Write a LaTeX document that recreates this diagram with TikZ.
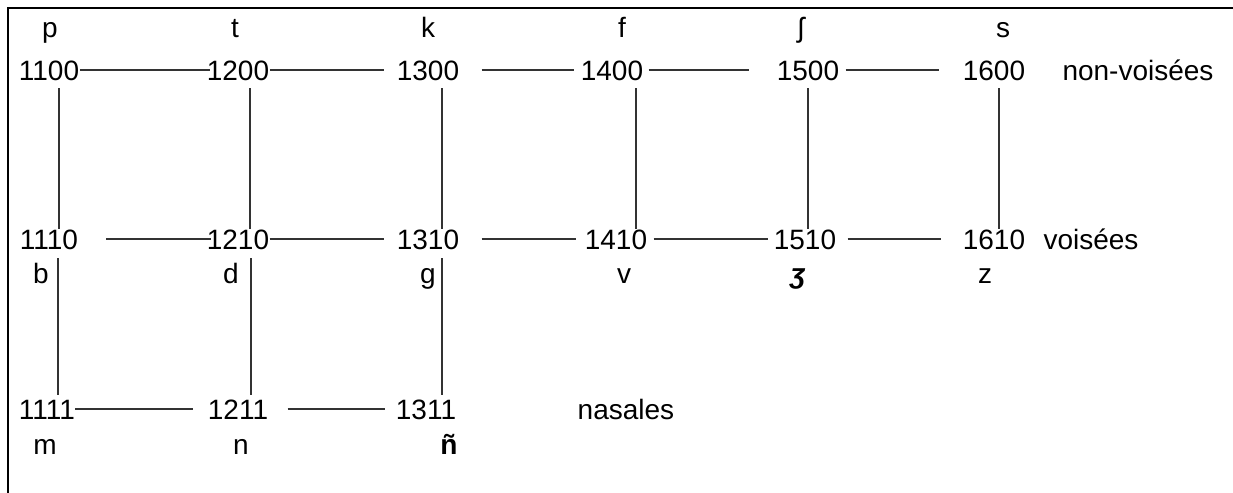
\documentclass[tikz,border=0pt]{standalone}
\usepackage{fontspec}
\setmainfont{Liberation Sans}
\usetikzlibrary{positioning, calc}

\begin{document}
\begin{tikzpicture}[
  x=0.5pt, y=-0.5pt,
  num/.style={
    font=\fontsize{14}{16}\selectfont, inner sep=0pt,
    anchor=base, text height=10pt, text depth=0pt,
  },
  phon/.style={font=\fontsize{14}{16}\selectfont, inner sep=0pt, anchor=base},
  link/.style={line width=0.55pt, black!80},
  frame/.style={line width=1pt},
]
\useasboundingbox (0,0) rectangle (1233,493);
\draw[frame] (8,493) -- (8,8) -- (1233,8);

% non-voisées
\node[num] (n1100) at (49,80)  {1100};
\node[num] (n1200) at (238,80) {1200};
\node[num] (n1300) at (428,80) {1300};
\node[num] (n1400) at (612,80) {1400};
\node[num] (n1500) at (808,80) {1500};
\node[num] (n1600) at (994,80) {1600};
\node[phon] (lnv) at (1138,80) {non-voisées};

% voisées
\node[num] (n1110) at (49,249)  {1110};
\node[num] (n1210) at (238,249) {1210};
\node[num] (n1310) at (428,249) {1310};
\node[num] (n1410) at (616,249) {1410};
\node[num] (n1510) at (805,249) {1510};
\node[num] (n1610) at (994,249) {1610};
\node[phon] (lv) at (1091,249) {voisées};

% nasales
\node[num] (n1111) at (47,419)  {1111};
\node[num] (n1211) at (238,419) {1211};
\node[num] (n1311) at (426,419) {1311};
\node[phon] (lnas) at (626,419) {nasales};

% phonemes
\node[phon] (pp) at (50,37)   {p};
\node[phon] (pt) at (235,37)  {t};
\node[phon] (pk) at (428,37)  {k};
\node[phon] (pf) at (622,37)  {f};
\node[phon] (psh) at (801,37) {ʃ};
\node[phon] (ps) at (1003,37) {s};
\node[phon] (pb) at (41,283)  {b};
\node[phon] (pd) at (231,283) {d};
\node[phon] (pg) at (428,283) {g};
\node[phon] (pv) at (624,283) {v};
\node[phon] (pzh) at (798,283) {\textbf{\textit{ʒ}}};
\node[phon] (pz) at (985,283) {z};
\node[phon] (pm) at (45,454)  {m};
\node[phon] (pn) at (241,454) {n};
\node[phon] (pny) at (449,454) {\textbf{ñ}};

% horizontal links
\draw[link] (n1100.east) -- ([xshift=2pt]n1200.west);
\draw[link, shorten >=6pt] (n1200.east) -- (n1300.west);
\draw[link, shorten <=11pt, shorten >=3pt] (n1300.east) -- (n1400.west);
\draw[link, shorten <=2.5pt, shorten >=13.5pt] (n1400.east) -- (n1500.west);
\draw[link, shorten <=3pt, shorten >=11.5pt] (n1500.east) -- (n1600.west);

\draw[link, shorten <=14pt] (n1110.east) -- ([xshift=2.5pt]n1210.west);
\draw[link, shorten >=6pt] (n1210.east) -- (n1310.west);
\draw[link, shorten <=11pt, shorten >=4pt] (n1310.east) -- (n1410.west);
\draw[link, shorten <=3pt, shorten >=2.5pt] (n1410.east) -- (n1510.west);
\draw[link, shorten <=5.5pt, shorten >=10.5pt] (n1510.east) -- (n1610.west);

\draw[link, shorten >=7pt] (n1111.east) -- (n1211.west);
\draw[link, shorten <=9.5pt, shorten >=5pt] (n1211.east) -- (n1311.west);

% vertical links
\foreach \up/\dn/\dx in {n1100/n1110/5pt, n1200/n1210/6pt, n1300/n1310/7pt,
                         n1400/n1410/12pt, n1500/n1510/0pt, n1600/n1610/2.5pt}
  \draw[link, shorten <=4pt] ([xshift=\dx]\up.south) -- ([xshift=\dx]\up.south |- \dn.north);
\foreach \up/\dn/\dx in {n1110/n1111/4.5pt, n1210/n1211/6.5pt, n1310/n1311/7pt}
  \draw[link, shorten <=4.5pt, shorten >=2pt] ([xshift=\dx]\up.south) -- ([xshift=\dx]\up.south |- \dn.north);
\end{tikzpicture}
\end{document}
